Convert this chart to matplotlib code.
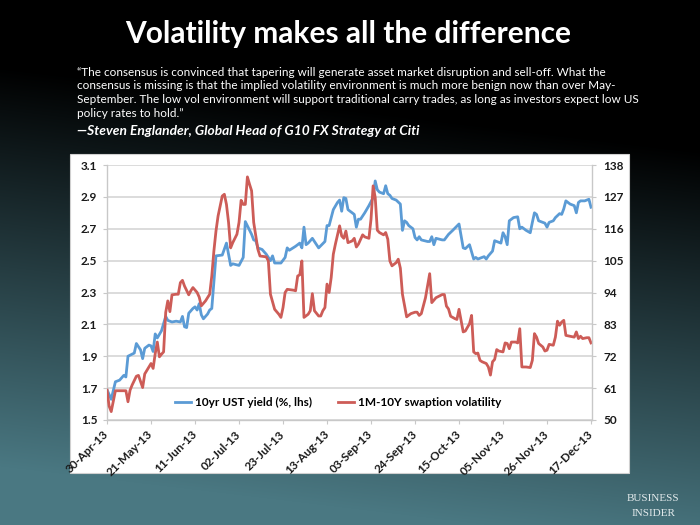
import numpy as np
import pandas as pd
import matplotlib
matplotlib.use('Agg')
import matplotlib.pyplot as plt
import matplotlib.transforms as mtransforms
from matplotlib.patches import Rectangle
from matplotlib.lines import Line2D

# data (days counted from 30-Apr-13)
start_date = '2013-04-30'

yield_days = [0, 2, 4, 6, 8, 9, 10, 13, 14, 16, 17, 18, 20, 21, 22, 23, 24, 26, 28, 29,
              31, 33, 35, 36, 37, 38, 39, 41, 42, 43, 44, 45, 46, 48, 49, 50, 52, 55, 57, 59,
              60, 63, 65, 66, 69, 70, 71, 72, 74, 76, 78, 79, 80, 83, 85, 86, 87, 90, 92, 93,
              94, 95, 96, 98, 100, 101, 104, 105, 106, 108, 110, 111, 112, 113, 114, 115, 117, 118, 119, 120,
              121, 123, 125, 126, 127, 128, 129, 130, 132, 133, 134, 135, 136, 138, 140, 141, 142, 143, 144, 146,
              147, 148, 149, 150, 153, 154, 155, 156, 157, 160, 161, 163, 165, 168, 170, 171, 173, 175, 176, 177,
              180, 181, 182, 184, 185, 187, 188, 189, 190, 191, 192, 194, 196, 197, 198, 200, 202, 203, 204, 205,
              206, 208, 209, 210, 211, 213, 214, 216, 217, 218, 219, 221, 223, 224, 225, 226, 228, 230, 231]
yield_vals = [1.69, 1.63, 1.74, 1.75, 1.78, 1.77, 1.90, 1.92, 1.98, 1.94, 1.885, 1.95, 1.97, 1.965, 1.93, 2.04, 2.015, 2.06, 2.15, 2.125,
              2.115, 2.12, 2.115, 2.15, 2.085, 2.08, 2.17, 2.20, 2.21, 2.19, 2.23, 2.16, 2.135, 2.165, 2.19, 2.20, 2.53, 2.535, 2.61, 2.47,
              2.48, 2.47, 2.52, 2.745, 2.665, 2.63, 2.625, 2.58, 2.57, 2.54, 2.50, 2.53, 2.485, 2.485, 2.52, 2.58, 2.565, 2.59, 2.61, 2.58,
              2.71, 2.60, 2.61, 2.64, 2.60, 2.58, 2.62, 2.72, 2.72, 2.82, 2.865, 2.88, 2.81, 2.895, 2.89, 2.82, 2.80, 2.79, 2.71, 2.76,
              2.76, 2.80, 2.845, 2.87, 2.895, 3.00, 2.945, 2.93, 2.92, 2.97, 2.92, 2.91, 2.89, 2.88, 2.855, 2.69, 2.75, 2.74, 2.72, 2.70,
              2.645, 2.63, 2.65, 2.63, 2.62, 2.62, 2.65, 2.60, 2.64, 2.63, 2.63, 2.665, 2.69, 2.73, 2.58, 2.575, 2.60, 2.51, 2.52, 2.51,
              2.525, 2.51, 2.53, 2.56, 2.625, 2.615, 2.61, 2.675, 2.65, 2.60, 2.75, 2.77, 2.775, 2.70, 2.71, 2.69, 2.675, 2.74, 2.80, 2.79,
              2.75, 2.74, 2.735, 2.71, 2.74, 2.75, 2.77, 2.795, 2.79, 2.825, 2.875, 2.855, 2.845, 2.80, 2.865, 2.875, 2.875, 2.885, 2.835]

swaption_days = [0, 1, 2, 4, 6, 8, 9, 10, 11, 12, 14, 15, 17, 18, 19, 21, 22, 23, 24, 25,
                 26, 27, 28, 29, 30, 31, 33, 34, 35, 36, 37, 39, 40, 41, 43, 44, 45, 47, 49, 50,
                 51, 52, 53, 55, 56, 57, 58, 59, 60, 62, 63, 64, 65, 66, 67, 68, 69, 70, 72, 73,
                 76, 77, 78, 80, 82, 83, 84, 85, 86, 89, 90, 91, 92, 93, 94, 96, 97, 98, 99, 101,
                 102, 103, 104, 105, 106, 107, 108, 109, 111, 112, 113, 114, 115, 117, 118, 119, 120, 122, 123, 125,
                 126, 127, 128, 129, 130, 132, 133, 134, 135, 136, 138, 139, 140, 141, 143, 145, 147, 148, 149, 150,
                 152, 154, 155, 157, 160, 161, 162, 163, 164, 166, 167, 168, 170, 171, 173, 174, 175, 176, 177, 178,
                 179, 181, 182, 183, 184, 185, 186, 187, 189, 190, 191, 192, 193, 195, 196, 197, 198, 200, 202, 203,
                 204, 205, 206, 208, 209, 210, 211, 213, 214, 215, 216, 217, 218, 219, 221, 223, 224, 225, 226, 227,
                 229, 230, 231]
swaption_vals = [60.3, 54.8, 52.9, 60.1, 60.1, 60.1, 60.1, 56.3, 60.3, 62.1, 65.1, 65.4, 61.2, 65.9, 67.1, 69.5, 67.8, 72.9, 76.9, 71.8,
                 72.7, 73.5, 87.1, 91.1, 87.4, 93.2, 93.4, 93.4, 97.4, 98.2, 96.2, 93.2, 94.6, 95.7, 94.0, 92.4, 89.4, 91.1, 93.4, 99.7,
                 108.3, 115.2, 120.4, 127.3, 127.9, 124.4, 118.2, 109.4, 111.2, 114.1, 118.2, 125.8, 124.4, 124.4, 133.9, 131.4, 129.1, 118.2, 108.9, 106.6,
                 106.3, 104.9, 93.4, 88.2, 86.5, 85.4, 88.8, 94.0, 95.1, 94.8, 94.6, 99.7, 100.1, 104.9, 85.4, 86.5, 87.7, 93.6, 87.7, 85.9,
                 85.9, 87.7, 88.8, 96.9, 94.0, 99.2, 107.2, 110.7, 117.0, 113.5, 112.7, 115.2, 111.2, 111.8, 112.7, 109.7, 110.7, 113.9, 113.2, 112.7,
                 119.3, 130.8, 126.8, 115.5, 114.7, 113.9, 114.7, 112.4, 104.9, 103.2, 104.3, 105.5, 102.4, 93.4, 85.6, 86.7, 87.2, 87.2, 86.1, 86.7,
                 92.2, 100.5, 90.5, 92.2, 93.3, 93.3, 89.3, 88.3, 85.8, 85.0, 84.7, 88.2, 80.4, 80.7, 83.2, 86.1, 73.5, 72.9, 73.1, 70.6,
                 70.1, 69.5, 68.3, 65.5, 70.1, 70.9, 74.3, 73.8, 73.5, 76.6, 76.4, 74.6, 76.9, 76.9, 76.6, 81.5, 68.3, 68.3, 68.1, 70.6,
                 79.8, 78.6, 76.4, 75.2, 73.8, 74.1, 76.1, 75.8, 78.6, 84.1, 82.7, 83.8, 84.4, 79.2, 78.9, 78.6, 80.4, 78.1, 78.9, 78.1,
                 78.4, 78.4, 76.6]

tick_dates = ['2013-04-30', '2013-05-21', '2013-06-11', '2013-07-02', '2013-07-23', '2013-08-13',
              '2013-09-03', '2013-09-24', '2013-10-15', '2013-11-05', '2013-11-26', '2013-12-17']
left_ticks = [1.5, 1.7, 1.9, 2.1, 2.3, 2.5, 2.7, 2.9, 3.1]
right_ticks = [50, 61, 72, 83, 94, 105, 116, 127, 138]

series_names = ['10yr UST yield (%, lhs)', '1M-10Y swaption volatility']

title = 'Volatility makes all the difference'
quote_lines = [
    '\u201cThe consensus is convinced that tapering will generate asset market disruption and sell-off. What the',
    'consensus is missing is that the implied volatility environment is much more benign now than over May-',
    'September. The low vol environment will support traditional carry trades, as long as investors expect low US',
    'policy rates to hold.\u201d',
]
attribution = '\u2014Steven Englander, Global Head of G10 FX Strategy at Citi'

FONT = 'Lato'
BLUE = '#5b9bd5'
RED = '#cd5c57'
GRID = '#d9d9d9'

# figure + background gradient (darker top right, teal bottom left)
fig = plt.figure(figsize=(7, 5.25), dpi=100)
bg = fig.add_axes([0, 0, 1, 1], zorder=-1)
yy, xx = np.mgrid[0:525, 0:700]
t = np.clip((yy + 0.12 * (700 - xx) - 150) / 400.0, 0, 1)
top_col = np.array([0, 0, 0])
bot_col = np.array([74, 120, 130]) / 255.0
img = top_col[None, None, :] * (1 - t[..., None]) + bot_col[None, None, :] * t[..., None]
bg.imshow(img, extent=[0, 1, 0, 1], aspect='auto', origin='upper')
bg.add_patch(Rectangle((0.1, 0.099), 0.7986, 0.6076, facecolor='white',
                       edgecolor='#d0d0d0', lw=0.8))
bg.set_xlim(0, 1)
bg.set_ylim(0, 1)
bg.axis('off')

# texts on top
fig.text(0.497, 0.936, title, ha='center', va='center', color='white',
         fontsize=21.5, fontweight='bold', family=FONT)
for i, line in enumerate(quote_lines):
    fig.text(0.11, 1 - (72 + i * 13.8) / 525, line, ha='left', va='center',
             color='white', fontsize=8.5, family=FONT)
fig.text(0.11, 1 - 131 / 525, attribution, ha='left', va='center', color='white',
         fontsize=9.9, fontweight='bold', style='italic', family=FONT)
fig.text(0.933, 0.051, 'BUSINESS', ha='center', va='center', color='#e3eaec',
         fontsize=8, family='Liberation Serif')
fig.text(0.933, 0.022, 'INSIDER', ha='center', va='center', color='#e3eaec',
         fontsize=8, family='Liberation Serif')

# chart
ax = fig.add_axes([0.1529, 0.2, 0.6929, 0.4857])
ax2 = ax.twinx()

x_yield = pd.Timestamp(start_date) + pd.to_timedelta(yield_days, unit='D')
x_swap = pd.Timestamp(start_date) + pd.to_timedelta(swaption_days, unit='D')
ax.plot(x_yield, yield_vals, color=BLUE, lw=2)
ax2.plot(x_swap, swaption_vals, color=RED, lw=2)

ax.set_ylim(1.5, 3.1)
ax2.set_ylim(50, 138)
ax.set_yticks(left_ticks)
ax.set_yticklabels(['%.1f' % v for v in left_ticks])
ax2.set_yticks(right_ticks)
ax2.set_yticklabels([str(v) for v in right_ticks])

xt = pd.to_datetime(tick_dates)
ax.set_xlim(xt[0], xt[-1] + pd.Timedelta(days=0.5))
ax.set_xticks(xt)
ax.set_xticklabels([d.strftime('%d-%b-%y') for d in xt], rotation=45,
                   ha='right', va='center', rotation_mode='anchor')
shift = mtransforms.ScaledTranslation(4 / 100, 0, fig.dpi_scale_trans)
for lbl in ax.get_xticklabels():
    lbl.set_transform(lbl.get_transform() + shift)

ax.yaxis.grid(True, color=GRID, lw=1.3)
ax.set_axisbelow(True)
for a in (ax, ax2):
    for s in a.spines.values():
        s.set_visible(False)
ax.spines['left'].set_visible(True)
ax.spines['bottom'].set_visible(True)
ax2.spines['right'].set_visible(True)
for s in (ax.spines['left'], ax.spines['bottom'], ax2.spines['right']):
    s.set_color('#c8c8c8')
    s.set_linewidth(1)

ax.tick_params(axis='y', length=3, color='#c8c8c8', pad=4)
ax.tick_params(axis='x', length=3, color='#c8c8c8', pad=6)
ax2.tick_params(axis='y', length=3, color='#c8c8c8', pad=5)
for lbl in ax.get_xticklabels() + ax.get_yticklabels() + ax2.get_yticklabels():
    lbl.set_fontfamily(FONT)
    lbl.set_fontweight('bold')
    lbl.set_fontsize(8.5)
    lbl.set_color('#1a1a1a')

handles = [Line2D([], [], color=BLUE, lw=2), Line2D([], [], color=RED, lw=2)]
leg = ax2.legend(handles, series_names, ncol=2, loc='center',
                 bbox_to_anchor=(0.476, 0.067), frameon=False,
                 handlelength=1.4, handletextpad=0.3, columnspacing=2.2,
                 prop={'family': FONT, 'weight': 'bold', 'size': 8.5})

fig.savefig('out.png', dpi=100)
